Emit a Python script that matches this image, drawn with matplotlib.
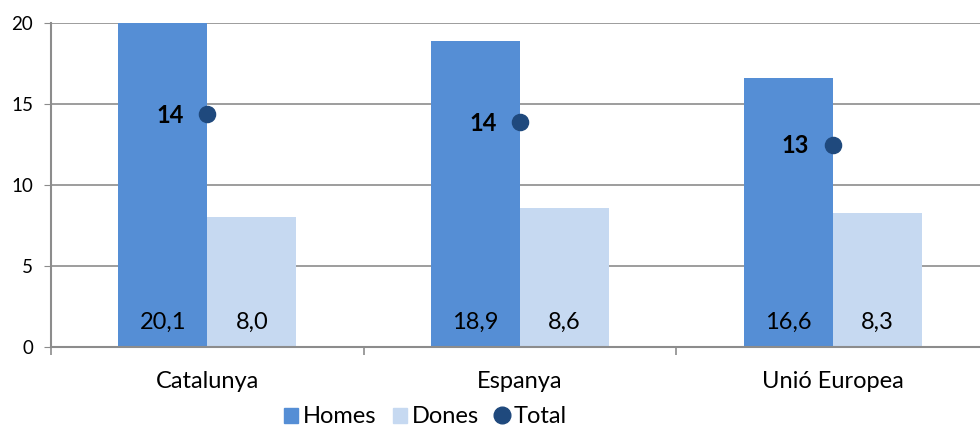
import matplotlib
matplotlib.use("Agg")
import matplotlib.pyplot as plt
from matplotlib.lines import Line2D
from matplotlib.patches import Patch
import numpy as np

plt.rcParams['font.family'] = ['Lato', 'DejaVu Sans']

categories = ["Catalunya", "Espanya", "Unió Europea"]
homes = [20.1, 18.9, 16.6]
dones = [8.0, 8.6, 8.3]
total = [14.4, 13.9, 12.5]
total_labels = ["14", "14", "13"]

c_homes = "#558ED5"
c_dones = "#C6D9F1"
c_total = "#1F497D"
c_grid = "#8C8C8C"

fig = plt.figure(figsize=(9.8, 4.28), dpi=100)
ax = fig.add_axes([51/980, 1-347/428, (989-51)/980, (347-23)/428])

x = np.arange(len(categories))
w = 0.285
ax.bar(x - w/2, homes, w, color=c_homes, zorder=2)
ax.bar(x + w/2, dones, w, color=c_dones, zorder=2)
ax.scatter(x, total, s=135, color=c_total, zorder=4)

for i in range(len(categories)):
    ax.text(x[i] - w/2, 1.5, f"{homes[i]:.1f}".replace(".", ","), ha="center", va="center",
            fontsize=17, color="black", zorder=5)
    ax.text(x[i] + w/2, 1.5, f"{dones[i]:.1f}".replace(".", ","), ha="center", va="center",
            fontsize=17, color="black", zorder=5)
    ax.annotate(total_labels[i], (x[i], total[i]), xytext=(-17, -1), textcoords="offset points",
                ha="right", va="center", fontsize=17, fontweight="bold", color="black", zorder=5)

ax.set_xlim(-0.5, 2.5)
ax.set_ylim(0, 20)
ax.set_yticks([0, 5, 10, 15, 20])
ax.set_yticklabels(["0", "5", "10", "15", "20"], fontsize=13.5)
ax.yaxis.grid(True, color=c_grid, linewidth=1.2, zorder=0)
ax.tick_params(axis="y", length=5, color=c_grid, pad=8)
ax.set_xticks([-0.5, 0.5, 1.5, 2.5])
ax.set_xticklabels([])
ax.set_xticks(x, minor=True)
ax.set_xticklabels(categories, minor=True, fontsize=17)
ax.tick_params(axis="x", which="major", length=6, color=c_grid, width=1.2)
ax.tick_params(axis="x", which="minor", length=0, pad=17)
for s in ["top", "right"]:
    ax.spines[s].set_visible(False)
for s in ["left", "bottom"]:
    ax.spines[s].set_color(c_grid)
    ax.spines[s].set_linewidth(1.5)
ax.set_axisbelow(True)

handles = [Patch(color=c_homes, label="Homes"), Patch(color=c_dones, label="Dones"),
           Line2D([], [], marker="o", linestyle="none", color=c_total, markersize=12, label="Total")]
fig.legend(handles=handles, loc="center", bbox_to_anchor=(0.434, 0.026), ncol=3, frameon=False,
           fontsize=17, handlelength=0.6, handleheight=0.6, handletextpad=0.2, columnspacing=0.7,
           borderpad=0, borderaxespad=0)

fig.savefig("out.png", dpi=100)
